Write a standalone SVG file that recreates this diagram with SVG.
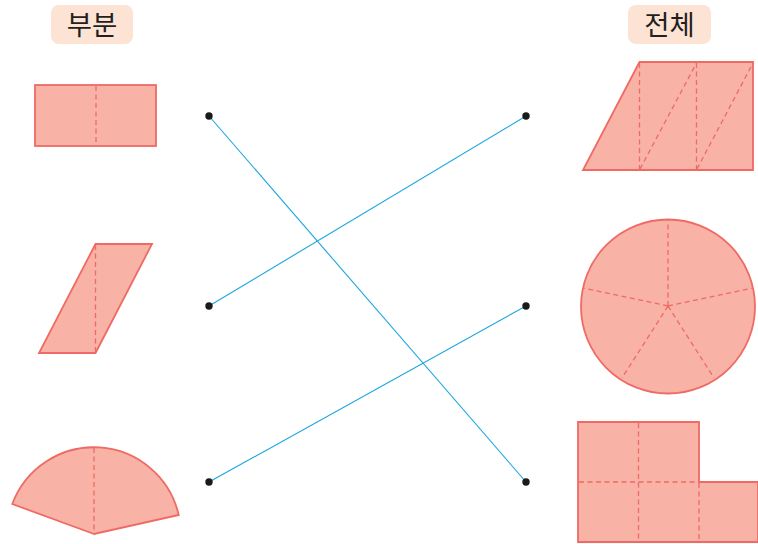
<svg xmlns="http://www.w3.org/2000/svg" width="758" height="544" viewBox="0 0 758 544">
<style>
.shape{fill:#f9b2a6;stroke:#ef6a64;stroke-width:1.8;stroke-linejoin:miter}
.dash{fill:none;stroke:#ef6a64;stroke-width:1.3;stroke-dasharray:5 3.5}
.lbl{fill:#fde3d3}
.lt{font-family:"Noto Sans CJK KR","Noto Sans",sans-serif;font-size:27.5px;fill:#231f20;text-anchor:middle}
.conn{stroke:#1aa6df;stroke-width:1.1;fill:none}
.dot{fill:#1a1a1a}
</style>
<g id="label-part"><rect class="lbl" x="51" y="5" width="82" height="39" rx="8"/><text class="lt" x="92" y="35">부분</text></g>
<g id="label-whole"><rect class="lbl" x="628" y="5" width="83" height="39" rx="8"/><text class="lt" x="669.5" y="35">전체</text></g>
<g id="part-rect"><rect class="shape" x="35" y="85" width="121" height="61"/><line class="dash" x1="96" y1="86" x2="96" y2="145"/></g>
<g id="part-parallelogram"><polygon class="shape" points="95.5,244 152,244 95.5,353 39,353"/><line class="dash" x1="95.5" y1="245" x2="95.5" y2="352"/></g>
<g id="part-sector"><path class="shape" d="M94,534 L12.3,504 A87,87 0 0 1 178.7,515 Z"/><line class="dash" x1="94" y1="448" x2="94" y2="533"/></g>
<g id="whole-trapezoid"><polygon class="shape" points="639.5,62 753,62 753,170 583,170"/><path class="dash" d="M639.5,63 V169 M696.5,63 V169 M640,169 L696.5,63 M697,169 L753,63"/></g>
<g id="whole-circle"><circle class="shape" cx="668" cy="306.5" r="87"/><path class="dash" d="M668,306 L668,220 M668,306 L753,288 M668,306 L714,378 M668,306 L622,378 M668,306 L583,288"/></g>
<g id="whole-lshape"><polygon class="shape" points="578,422 699,422 699,482 758,482 758,542 578,542"/><path class="dash" d="M638.5,423 V541 M579,482 H699 M699,483 V541"/></g>
<g id="connectors">
<line class="conn" x1="209" y1="116" x2="526" y2="482"/>
<line class="conn" x1="209" y1="306" x2="526" y2="116"/>
<line class="conn" x1="209" y1="482" x2="526" y2="306"/>
<circle class="dot" cx="209" cy="116" r="3.7"/><circle class="dot" cx="209" cy="306" r="3.7"/><circle class="dot" cx="209" cy="482" r="3.7"/>
<circle class="dot" cx="526" cy="116" r="3.7"/><circle class="dot" cx="526" cy="306" r="3.7"/><circle class="dot" cx="526" cy="482" r="3.7"/>
</g>
</svg>
